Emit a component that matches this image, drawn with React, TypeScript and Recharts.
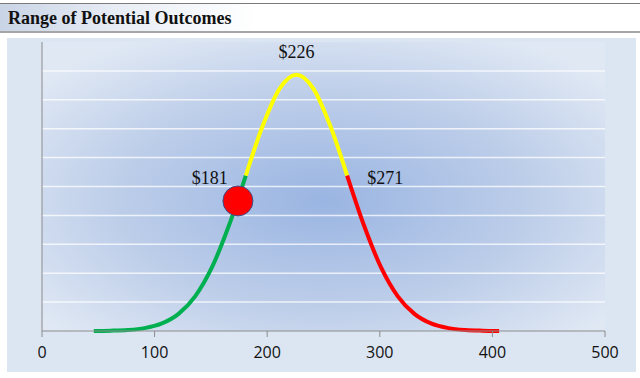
import React from "react";
import {
  ComposedChart,
  Line,
  ReferenceLine,
  Scatter,
  XAxis,
  YAxis,
  ReferenceArea,
} from "recharts";

// outcome values ($) and density (x 1e-3)
const outcomes = [
  46, 61, 76, 91, 106, 121, 136, 151, 166, 181, 196, 211, 226, 241, 256, 271, 286, 301, 316, 331,
  346, 361, 376, 391, 406,
];
const density = [
  0.003, 0.011, 0.034, 0.099, 0.253, 0.583, 1.2, 2.21, 3.65, 5.38, 7.1, 8.39, 8.87, 8.39, 7.1,
  5.38, 3.65, 2.21, 1.2, 0.583, 0.253, 0.099, 0.034, 0.011, 0.003,
];
const lowCut = 181;
const highCut = 271;

const xTicks = [0, 100, 200, 300, 400, 500];
const yGrid = [1, 2, 3, 4, 5, 6, 7, 8, 9];

const currentPoint = [{ x: 174, y: 4.5 }];
const markers = [
  { x: 181, y: 5.38, text: "$181" },
  { x: 226, y: 8.87, text: "$226" },
  { x: 271, y: 5.38, text: "$271" },
];

const chartData = outcomes.map((x, i) => ({
  x,
  low: x <= lowCut ? density[i] : null,
  mid: x >= lowCut && x <= highCut ? density[i] : null,
  high: x >= highCut ? density[i] : null,
}));

const markerOffset: Record<string, [number, number]> = {
  $181: [-36, 2],
  $226: [0, -23],
  $271: [38, 2],
};

function MarkerLabel(props: any) {
  const { cx, cy, payload } = props;
  const [dx, dy] = markerOffset[payload.text] || [0, 0];
  return (
    <text
      x={cx + dx}
      y={cy + dy}
      textAnchor="middle"
      dominantBaseline="central"
      fontFamily="'Liberation Serif', serif"
      fontSize={18}
      fill="#111"
    >
      {payload.text}
    </text>
  );
}

function Dot(props: any) {
  const { cx, cy } = props;
  return <circle cx={cx} cy={cy} r={15} fill="#ff0000" stroke="#3b4f8c" strokeWidth={1} />;
}

export default function App() {
  return (
    <div
      style={{
        position: "absolute",
        left: 0,
        top: 0,
        width: 640,
        height: 378,
        background: "#ffffff",
        overflow: "hidden",
      }}
    >
      {/* title bar */}
      <div
        style={{
          position: "absolute",
          left: 0,
          top: 3,
          width: 640,
          height: 27,
          borderTop: "1px solid #7a7a7a",
          borderBottom: "2px solid #a6a6a6",
          background: "linear-gradient(to right, #c9d4e6 0%, #e8edf5 18%, #ffffff 40%)",
        }}
      >
        <span
          style={{
            position: "absolute",
            left: 8,
            top: 4,
            fontFamily: "'Liberation Serif', serif",
            fontWeight: 700,
            fontSize: 18,
            color: "#111",
          }}
        >
          Range of Potential Outcomes
        </span>
      </div>
      {/* chart panel */}
      <div
        style={{
          position: "absolute",
          left: 7,
          top: 38,
          width: 629,
          height: 334,
          background: "#dce6f2",
        }}
      />
      <div style={{ position: "absolute", left: 0, top: 0 }}>
        <ComposedChart
          width={640}
          height={378}
          data={chartData}
          margin={{ top: 42, right: 35, left: 41, bottom: 17 }}
        >
          <defs>
            <radialGradient id="plotBg" cx="50%" cy="55%" r="65%">
              <stop offset="0%" stopColor="#9ab5e2" />
              <stop offset="55%" stopColor="#bccde9" />
              <stop offset="100%" stopColor="#e0e8f4" />
            </radialGradient>
          </defs>
          <XAxis
            dataKey="x"
            type="number"
            domain={[0, 500]}
            ticks={xTicks}
            allowDataOverflow
            height={30}
            stroke="#8c8c8c"
            tickSize={6}
            tickMargin={10}
            tick={{ fill: "#111", fontSize: 16, fontFamily: "'Open Sans', sans-serif" }}
          />
          <YAxis type="number" domain={[0, 10]} width={1} tick={false} tickLine={false} stroke="#8c8c8c" />
          <ReferenceArea x1={0} x2={500} y1={0} y2={10} fill="url(#plotBg)" fillOpacity={1} stroke="none" />
          {yGrid.map((v) => (
            <ReferenceLine key={v} y={v} stroke="#ffffff" strokeOpacity={0.75} strokeWidth={1.5} />
          ))}
          <Line
            dataKey="low"
            type="monotone"
            stroke="#00b050"
            strokeWidth={4}
            dot={false}
            isAnimationActive={false}
          />
          <Line
            dataKey="mid"
            type="monotone"
            stroke="#ffff00"
            strokeWidth={4}
            dot={false}
            isAnimationActive={false}
          />
          <Line
            dataKey="high"
            type="monotone"
            stroke="#ff0000"
            strokeWidth={4}
            dot={false}
            isAnimationActive={false}
          />
          <Scatter data={currentPoint} dataKey="y" shape={<Dot />} isAnimationActive={false} />
          <Scatter data={markers} dataKey="y" shape={<MarkerLabel />} isAnimationActive={false} />
        </ComposedChart>
      </div>
    </div>
  );
}
